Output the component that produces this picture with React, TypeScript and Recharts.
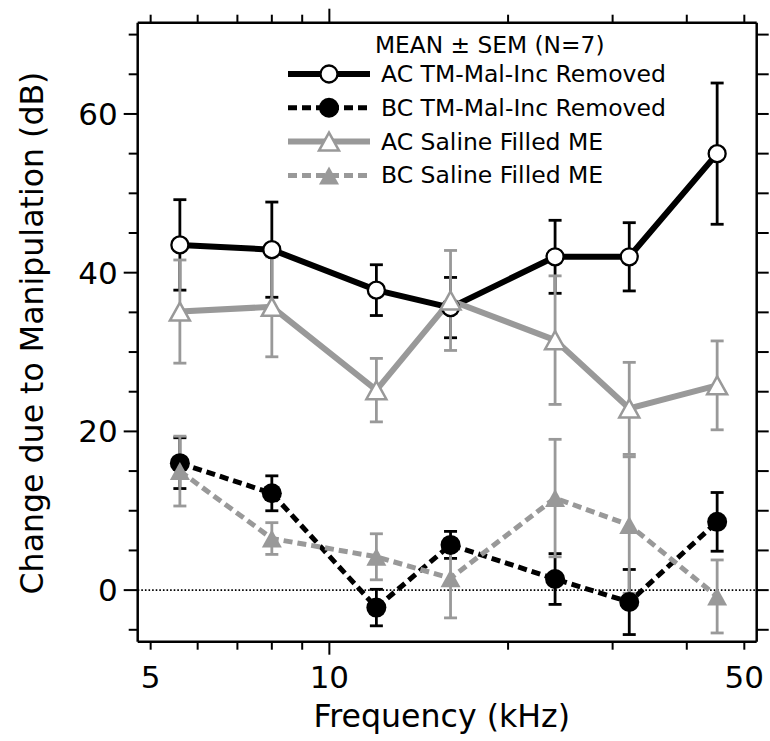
import { ComposedChart, Line, XAxis, YAxis, ErrorBar, ReferenceLine } from "recharts";

// frequencies (kHz) and the four series, mean and SEM
const frequencies = [5.6, 8, 12, 16, 24, 32, 45];
const acTmMean = [43.5, 42.9, 37.8, 35.6, 42.0, 42.0, 55.0];
const acTmSem = [5.7, 6.0, 3.2, 3.8, 4.6, 4.3, 8.9];
const bcTmMean = [16.0, 12.2, -2.2, 5.7, 1.4, -1.5, 8.6];
const bcTmSem = [3.2, 2.2, 2.3, 1.7, 3.2, 4.1, 3.7];
const acSalMean = [35.1, 35.7, 25.2, 36.5, 31.5, 22.9, 25.8];
const acSalSem = [6.5, 6.3, 4.0, 6.3, 8.1, 5.8, 5.6];
const bcSalMean = [15.0, 6.5, 4.2, 1.5, 11.6, 8.2, -0.8];
const bcSalSem = [4.4, 2.0, 2.9, 5.0, 7.4, 8.6, 4.6];

const xTicks = [5, 6, 7, 8, 9, 10, 20, 30, 40, 50];
const xLabeled = [5, 10, 50];
const yTicks = [-5, 0, 5, 10, 15, 20, 25, 30, 35, 40, 45, 50, 55, 60, 65, 70];
const yLabeled = [0, 20, 40, 60];

const W = 770;
const H = 741;
const LEFT = 137.7;
const RIGHT = 756.7;
const TOP = 22.7;
const BOTTOM = 641.7;
const FONT = "DejaVu Sans, Verdana, sans-serif";
const GRAY = "#999999";

const rows = frequencies.map((f, i) => ({
  f,
  acTm: acTmMean[i],
  acTmErr: acTmSem[i],
  bcTm: bcTmMean[i],
  bcTmErr: bcTmSem[i],
  acSal: acSalMean[i],
  acSalErr: acSalSem[i],
  bcSal: bcSalMean[i],
  bcSalErr: bcSalSem[i],
}));

type Marker = "openCircle" | "filledCircle" | "openTriangle" | "filledTriangle";

function drawMarker(kind: Marker, color: string, cx: number, cy: number, key?: string | number) {
  if (kind === "openCircle")
    return <circle key={key} cx={cx} cy={cy} r={8.5} fill="#fff" stroke={color} strokeWidth={2.3} />;
  if (kind === "filledCircle") return <circle key={key} cx={cx} cy={cy} r={10} fill={color} />;
  const w = 10;
  const h = 9;
  const pts = `${cx},${cy - h} ${cx - w},${cy + h} ${cx + w},${cy + h}`;
  if (kind === "openTriangle")
    return <polygon key={key} points={pts} fill="#fff" stroke={color} strokeWidth={2.5} strokeLinejoin="miter" />;
  return <polygon key={key} points={pts} fill={color} />;
}

const series = [
  { key: "acTm", name: "AC TM-Mal-Inc Removed", color: "#000", dash: undefined, width: 6, marker: "openCircle" as Marker },
  { key: "bcTm", name: "BC TM-Mal-Inc Removed", color: "#000", dash: "9 5", width: 5, marker: "filledCircle" as Marker },
  { key: "acSal", name: "AC Saline Filled ME", color: GRAY, dash: undefined, width: 6, marker: "openTriangle" as Marker },
  { key: "bcSal", name: "BC Saline Filled ME", color: GRAY, dash: "9 5", width: 5, marker: "filledTriangle" as Marker },
];

function LeftTick(props: any) {
  const { y, payload } = props;
  const v = payload.value;
  const major = yLabeled.includes(v);
  return (
    <g>
      <line x1={LEFT} x2={LEFT - (major ? 14 : 9)} y1={y} y2={y} stroke="#000" strokeWidth={2} />
      {major && (
        <text x={LEFT - 20} y={y} dy={11} textAnchor="end" fontSize={31} fontFamily={FONT} fill="#000">
          {v}
        </text>
      )}
    </g>
  );
}

function RightTick(props: any) {
  const { y } = props;
  return <line x1={RIGHT} x2={RIGHT + 12} y1={y} y2={y} stroke="#000" strokeWidth={2} />;
}

function TopTick(props: any) {
  const { x, payload } = props;
  const len = payload.value === 10 ? 14 : 8;
  return <line x1={x} x2={x} y1={TOP} y2={TOP - len} stroke="#000" strokeWidth={2} />;
}

function BottomTick(props: any) {
  const { x, payload } = props;
  const v = payload.value;
  const len = v === 10 ? 13 : 8;
  return (
    <g>
      <line x1={x} x2={x} y1={BOTTOM} y2={BOTTOM + len} stroke="#000" strokeWidth={2} />
      {xLabeled.includes(v) && (
        <text x={x} y={688} textAnchor="middle" fontSize={31} fontFamily={FONT} fill="#000">
          {v}
        </text>
      )}
    </g>
  );
}

export default function App() {
  const xDomain = [4.755, 52.46];
  const yDomain = [-6.5, 71.5];
  return (
    <div style={{ position: "absolute", left: 0, top: 0, width: W, height: H, background: "#fff" }}>
      <ComposedChart width={W} height={H} data={rows} margin={{ top: 0, right: 0, bottom: 0, left: 0 }}>
        <XAxis
          dataKey="f"
          type="number"
          scale="log"
          domain={xDomain}
          allowDataOverflow
          ticks={xTicks}
          height={H - BOTTOM}
          tickLine={false}
          axisLine={{ stroke: "#000", strokeWidth: 2.5 }}
          tick={BottomTick}
          interval={0}
        />
        <XAxis
          xAxisId="top"
          dataKey="f"
          orientation="top"
          type="number"
          scale="log"
          domain={xDomain}
          allowDataOverflow
          ticks={xTicks}
          height={TOP}
          tickLine={false}
          axisLine={{ stroke: "#000", strokeWidth: 2.5 }}
          tick={TopTick}
          interval={0}
        />
        <YAxis
          type="number"
          domain={yDomain}
          allowDataOverflow
          ticks={yTicks}
          width={LEFT}
          tickLine={false}
          axisLine={{ stroke: "#000", strokeWidth: 2.5 }}
          tick={LeftTick}
          interval={0}
        />
        <YAxis
          yAxisId="right"
          orientation="right"
          type="number"
          domain={yDomain}
          allowDataOverflow
          ticks={yTicks}
          width={W - RIGHT}
          tickLine={false}
          axisLine={{ stroke: "#000", strokeWidth: 2.5 }}
          tick={RightTick}
          interval={0}
        />
        <ReferenceLine y={0} stroke="#000" strokeWidth={1.6} strokeDasharray="1.6 2" />
        {series.map((s) => (
          <Line
            key={s.key}
            dataKey={s.key}
            name={s.name}
            type="linear"
            stroke={s.color}
            strokeWidth={s.width}
            strokeDasharray={s.dash}
            isAnimationActive={false}
            dot={(p: any) => drawMarker(s.marker, s.color, p.cx, p.cy, p.index)}
            activeDot={false}
          >
            <ErrorBar
              dataKey={s.key + "Err"}
              direction="y"
              width={6.5}
              stroke={s.color}
              strokeWidth={2.8}
              isAnimationActive={false}
            />
          </Line>
        ))}
      </ComposedChart>
      <svg width={W} height={H} style={{ position: "absolute", left: 0, top: 0, pointerEvents: "none" }}>
        <text x={375} y={53} fontSize={23.3} fontFamily={FONT} fill="#000">
          MEAN ± SEM (N=7)
        </text>
        {series.map((s, i) => {
          const cy = 74 + i * 33.8;
          return (
            <g key={s.key}>
              <line x1={288} x2={370} y1={cy} y2={cy} stroke={s.color} strokeWidth={s.width} strokeDasharray={s.dash} />
              {drawMarker(s.marker, s.color, 329, cy)}
              <text x={381} y={cy + 8} fontSize={23.5} fontFamily={FONT} fill="#000">
                {s.name}
              </text>
            </g>
          );
        })}
        <text
          x={43}
          y={333}
          transform="rotate(-90 43 333)"
          textAnchor="middle"
          fontSize={31.6}
          fontFamily={FONT}
          fill="#000"
        >
          Change due to Manipulation (dB)
        </text>
        <text x={441.7} y={727} textAnchor="middle" fontSize={31.6} fontFamily={FONT} fill="#000">
          Frequency (kHz)
        </text>
      </svg>
    </div>
  );
}
